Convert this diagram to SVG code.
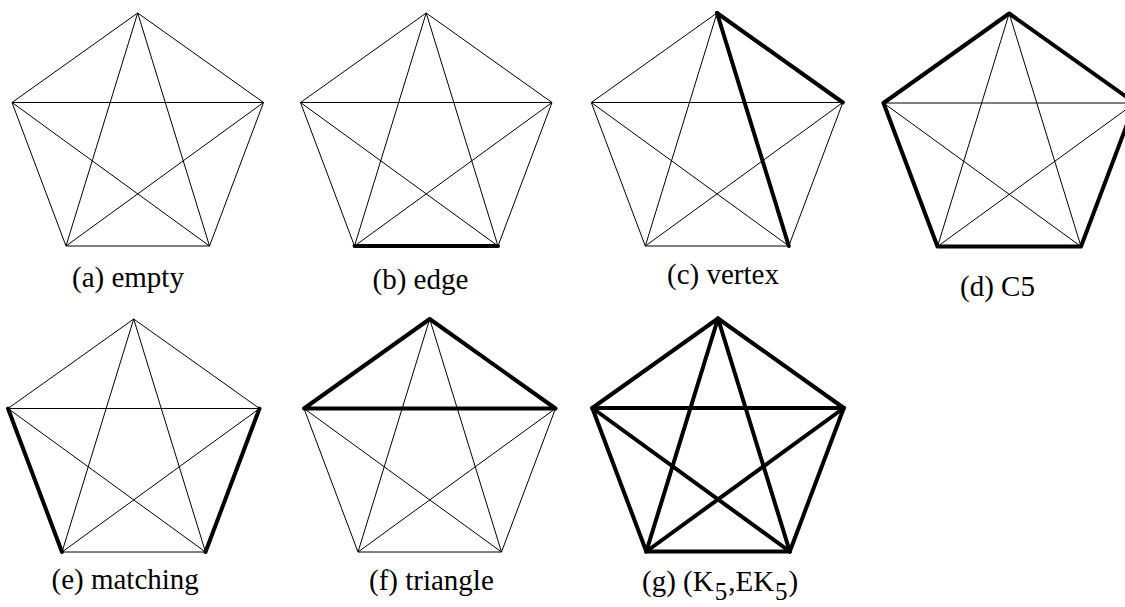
<svg xmlns="http://www.w3.org/2000/svg" width="1125" height="607" viewBox="0 0 1125 607">
<style>
.t{stroke:#000;stroke-width:1;fill:none}
.k{stroke:#000;stroke-width:4;fill:none;stroke-linecap:round;stroke-linejoin:round}
.lbl{font-family:"Liberation Serif","Times New Roman",serif;font-size:29px;fill:#000}
.sub{font-size:25px}
</style>
<rect width="1125" height="607" fill="#fff"/>
<g id="a">
<g class="edges" transform="translate(12,13)">
<line class="t" x1="125.7" y1="0" x2="0" y2="89.5"/><line class="t" x1="125.7" y1="0" x2="251.5" y2="89.5"/><line class="t" x1="125.7" y1="0" x2="54" y2="233"/><line class="t" x1="125.7" y1="0" x2="197.5" y2="233"/><line class="t" x1="0" y1="89.5" x2="251.5" y2="89.5"/><line class="t" x1="0" y1="89.5" x2="54" y2="233"/><line class="t" x1="0" y1="89.5" x2="197.5" y2="233"/><line class="t" x1="251.5" y1="89.5" x2="54" y2="233"/><line class="t" x1="251.5" y1="89.5" x2="197.5" y2="233"/><line class="t" x1="54" y1="233" x2="197.5" y2="233"/>
</g>
<text class="lbl" x="72" y="287">(a) empty</text>
</g>
<g id="b">
<g class="edges" transform="translate(300.5,13)">
<line class="t" x1="125.7" y1="0" x2="0" y2="89.5"/><line class="t" x1="125.7" y1="0" x2="251.5" y2="89.5"/><line class="t" x1="125.7" y1="0" x2="54" y2="233"/><line class="t" x1="125.7" y1="0" x2="197.5" y2="233"/><line class="t" x1="0" y1="89.5" x2="251.5" y2="89.5"/><line class="t" x1="0" y1="89.5" x2="54" y2="233"/><line class="t" x1="0" y1="89.5" x2="197.5" y2="233"/><line class="t" x1="251.5" y1="89.5" x2="54" y2="233"/><line class="t" x1="251.5" y1="89.5" x2="197.5" y2="233"/><line class="k" x1="54" y1="233" x2="197.5" y2="233"/>
</g>
<text class="lbl" x="372.5" y="289">(b) edge</text>
</g>
<g id="c">
<g class="edges" transform="translate(591.3,13)">
<line class="t" x1="125.7" y1="0" x2="0" y2="89.5"/><line class="t" x1="125.7" y1="0" x2="54" y2="233"/><line class="t" x1="0" y1="89.5" x2="251.5" y2="89.5"/><line class="t" x1="0" y1="89.5" x2="54" y2="233"/><line class="t" x1="0" y1="89.5" x2="197.5" y2="233"/><line class="t" x1="251.5" y1="89.5" x2="54" y2="233"/><line class="t" x1="251.5" y1="89.5" x2="197.5" y2="233"/><line class="t" x1="54" y1="233" x2="197.5" y2="233"/><line class="k" x1="125.7" y1="0" x2="251.5" y2="89.5"/><line class="k" x1="125.7" y1="0" x2="197.5" y2="233"/>
</g>
<text class="lbl" x="667" y="284">(c) vertex</text>
</g>
<g id="d">
<g class="edges" transform="translate(883.5,13.5)">
<line class="t" x1="125.7" y1="0" x2="54" y2="233"/><line class="t" x1="125.7" y1="0" x2="197.5" y2="233"/><line class="t" x1="0" y1="89.5" x2="251.5" y2="89.5"/><line class="t" x1="0" y1="89.5" x2="197.5" y2="233"/><line class="t" x1="251.5" y1="89.5" x2="54" y2="233"/><polygon class="k" points="125.7,0 251.5,89.5 197.5,233 54,233 0,89.5"/>
</g>
<text class="lbl" x="960" y="296">(d) C5</text>
</g>
<g id="e">
<g class="edges" transform="translate(8,319)">
<line class="t" x1="125.7" y1="0" x2="0" y2="89.5"/><line class="t" x1="125.7" y1="0" x2="251.5" y2="89.5"/><line class="t" x1="125.7" y1="0" x2="54" y2="233"/><line class="t" x1="125.7" y1="0" x2="197.5" y2="233"/><line class="t" x1="0" y1="89.5" x2="251.5" y2="89.5"/><line class="t" x1="0" y1="89.5" x2="197.5" y2="233"/><line class="t" x1="251.5" y1="89.5" x2="54" y2="233"/><line class="t" x1="54" y1="233" x2="197.5" y2="233"/><line class="k" x1="0" y1="89.5" x2="54" y2="233"/><line class="k" x1="251.5" y1="89.5" x2="197.5" y2="233"/>
</g>
<text class="lbl" x="51.5" y="589">(e) matching</text>
</g>
<g id="f">
<g class="edges" transform="translate(304,319)">
<line class="t" x1="125.7" y1="0" x2="54" y2="233"/><line class="t" x1="125.7" y1="0" x2="197.5" y2="233"/><line class="t" x1="0" y1="89.5" x2="54" y2="233"/><line class="t" x1="0" y1="89.5" x2="197.5" y2="233"/><line class="t" x1="251.5" y1="89.5" x2="54" y2="233"/><line class="t" x1="251.5" y1="89.5" x2="197.5" y2="233"/><line class="t" x1="54" y1="233" x2="197.5" y2="233"/><polygon class="k" points="125.7,0 251.5,89.5 0,89.5"/>
</g>
<text class="lbl" x="369" y="590">(f) triangle</text>
</g>
<g id="g">
<g class="edges" transform="translate(592.3,318.5)">
<line class="k" x1="125.7" y1="0" x2="0" y2="89.5"/><line class="k" x1="125.7" y1="0" x2="251.5" y2="89.5"/><line class="k" x1="125.7" y1="0" x2="54" y2="233"/><line class="k" x1="125.7" y1="0" x2="197.5" y2="233"/><line class="k" x1="0" y1="89.5" x2="251.5" y2="89.5"/><line class="k" x1="0" y1="89.5" x2="54" y2="233"/><line class="k" x1="0" y1="89.5" x2="197.5" y2="233"/><line class="k" x1="251.5" y1="89.5" x2="54" y2="233"/><line class="k" x1="251.5" y1="89.5" x2="197.5" y2="233"/><line class="k" x1="54" y1="233" x2="197.5" y2="233"/>
</g>
<text class="lbl" x="642" y="591">(g) (K<tspan class="sub" dx="1" dy="9">5</tspan><tspan dx="1" dy="-9">,EK</tspan><tspan class="sub" dx="1" dy="9">5</tspan><tspan dx="1" dy="-9">)</tspan></text>
</g>
</svg>
